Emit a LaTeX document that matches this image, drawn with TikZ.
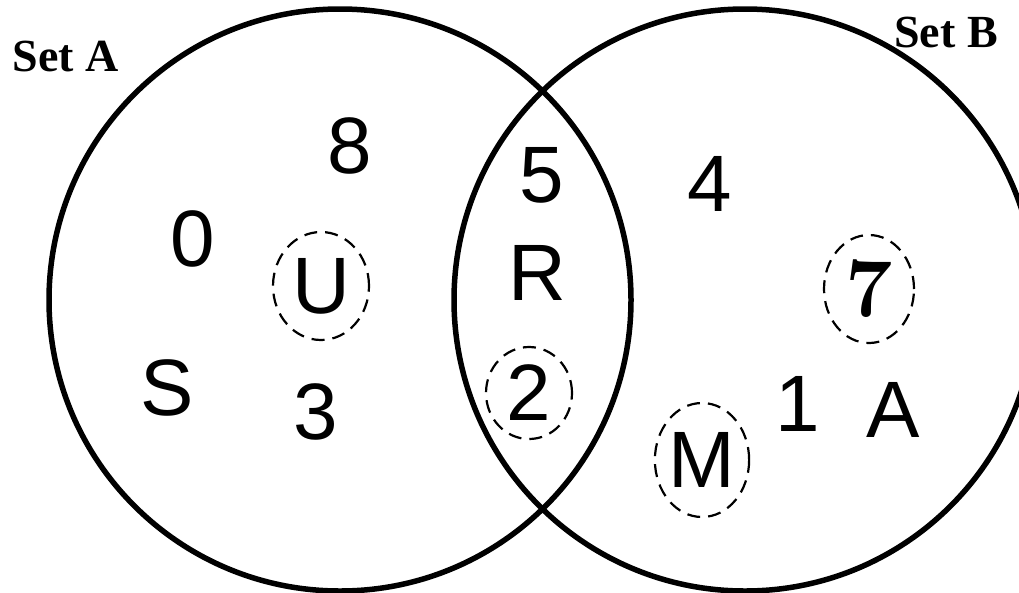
\documentclass[tikz,border=0pt]{standalone}
\usepackage{fontspec}
\setmainfont{Liberation Sans}
\newfontfamily\timesface{Liberation Serif}
\newfontfamily\lmface{Latin Modern Roman}
\usetikzlibrary{shapes.geometric}

\begin{document}
\begin{tikzpicture}[
  x=1pt, y=-1pt,
  setring/.style={draw, line width=5.5pt},
  elem/.style={font=\fontsize{80}{80}\selectfont, inner sep=0pt},
  tag/.style={font=\timesface\bfseries\fontsize{46}{46}\selectfont, inner sep=0pt},
  loose/.style={draw, ellipse, line width=2.2pt, dash pattern=on 13pt off 8pt}
]
\clip (0,0) rectangle (1019,592);

% the two sets
\coordinate (ca) at (340,300);
\coordinate (cb) at (745,300);
\draw[setring] (ca) circle (291);
\draw[setring] (cb) circle (291);
\node[tag] (seta) at (66,56) {Set A};
\node[tag] (setb) at (946,32) {Set B};

% only in A
\node[elem] (e8) at (350,146) {8};
\node[elem] (e0) at (193,239) {0};
\node[elem, loose, minimum width=96pt, minimum height=108pt] (eu) at (321,286) {U};
\node[elem] (es) at (167,388) {S};
\node[elem] (e3) at (316,412) {3};

% in both
\node[elem] (e5) at (542,175) {5};
\node[elem] (er) at (537,273) {R};
\node[elem, loose, minimum width=86pt, minimum height=92pt] (e2) at (529,393) {2};

% only in B
\node[elem] (e4) at (710,184) {4};
\node[elem, loose, minimum width=90pt, minimum height=108pt, font=\lmface\bfseries\fontsize{84}{84}\selectfont] (e7) at (869,289) {7};
\node[elem] (e1) at (798,404) {1};
\node[elem] (ea) at (893,410) {A};
\node[elem, loose, minimum width=84pt, minimum height=114pt] (em) at (702,460) {M};
\end{tikzpicture}
\end{document}
